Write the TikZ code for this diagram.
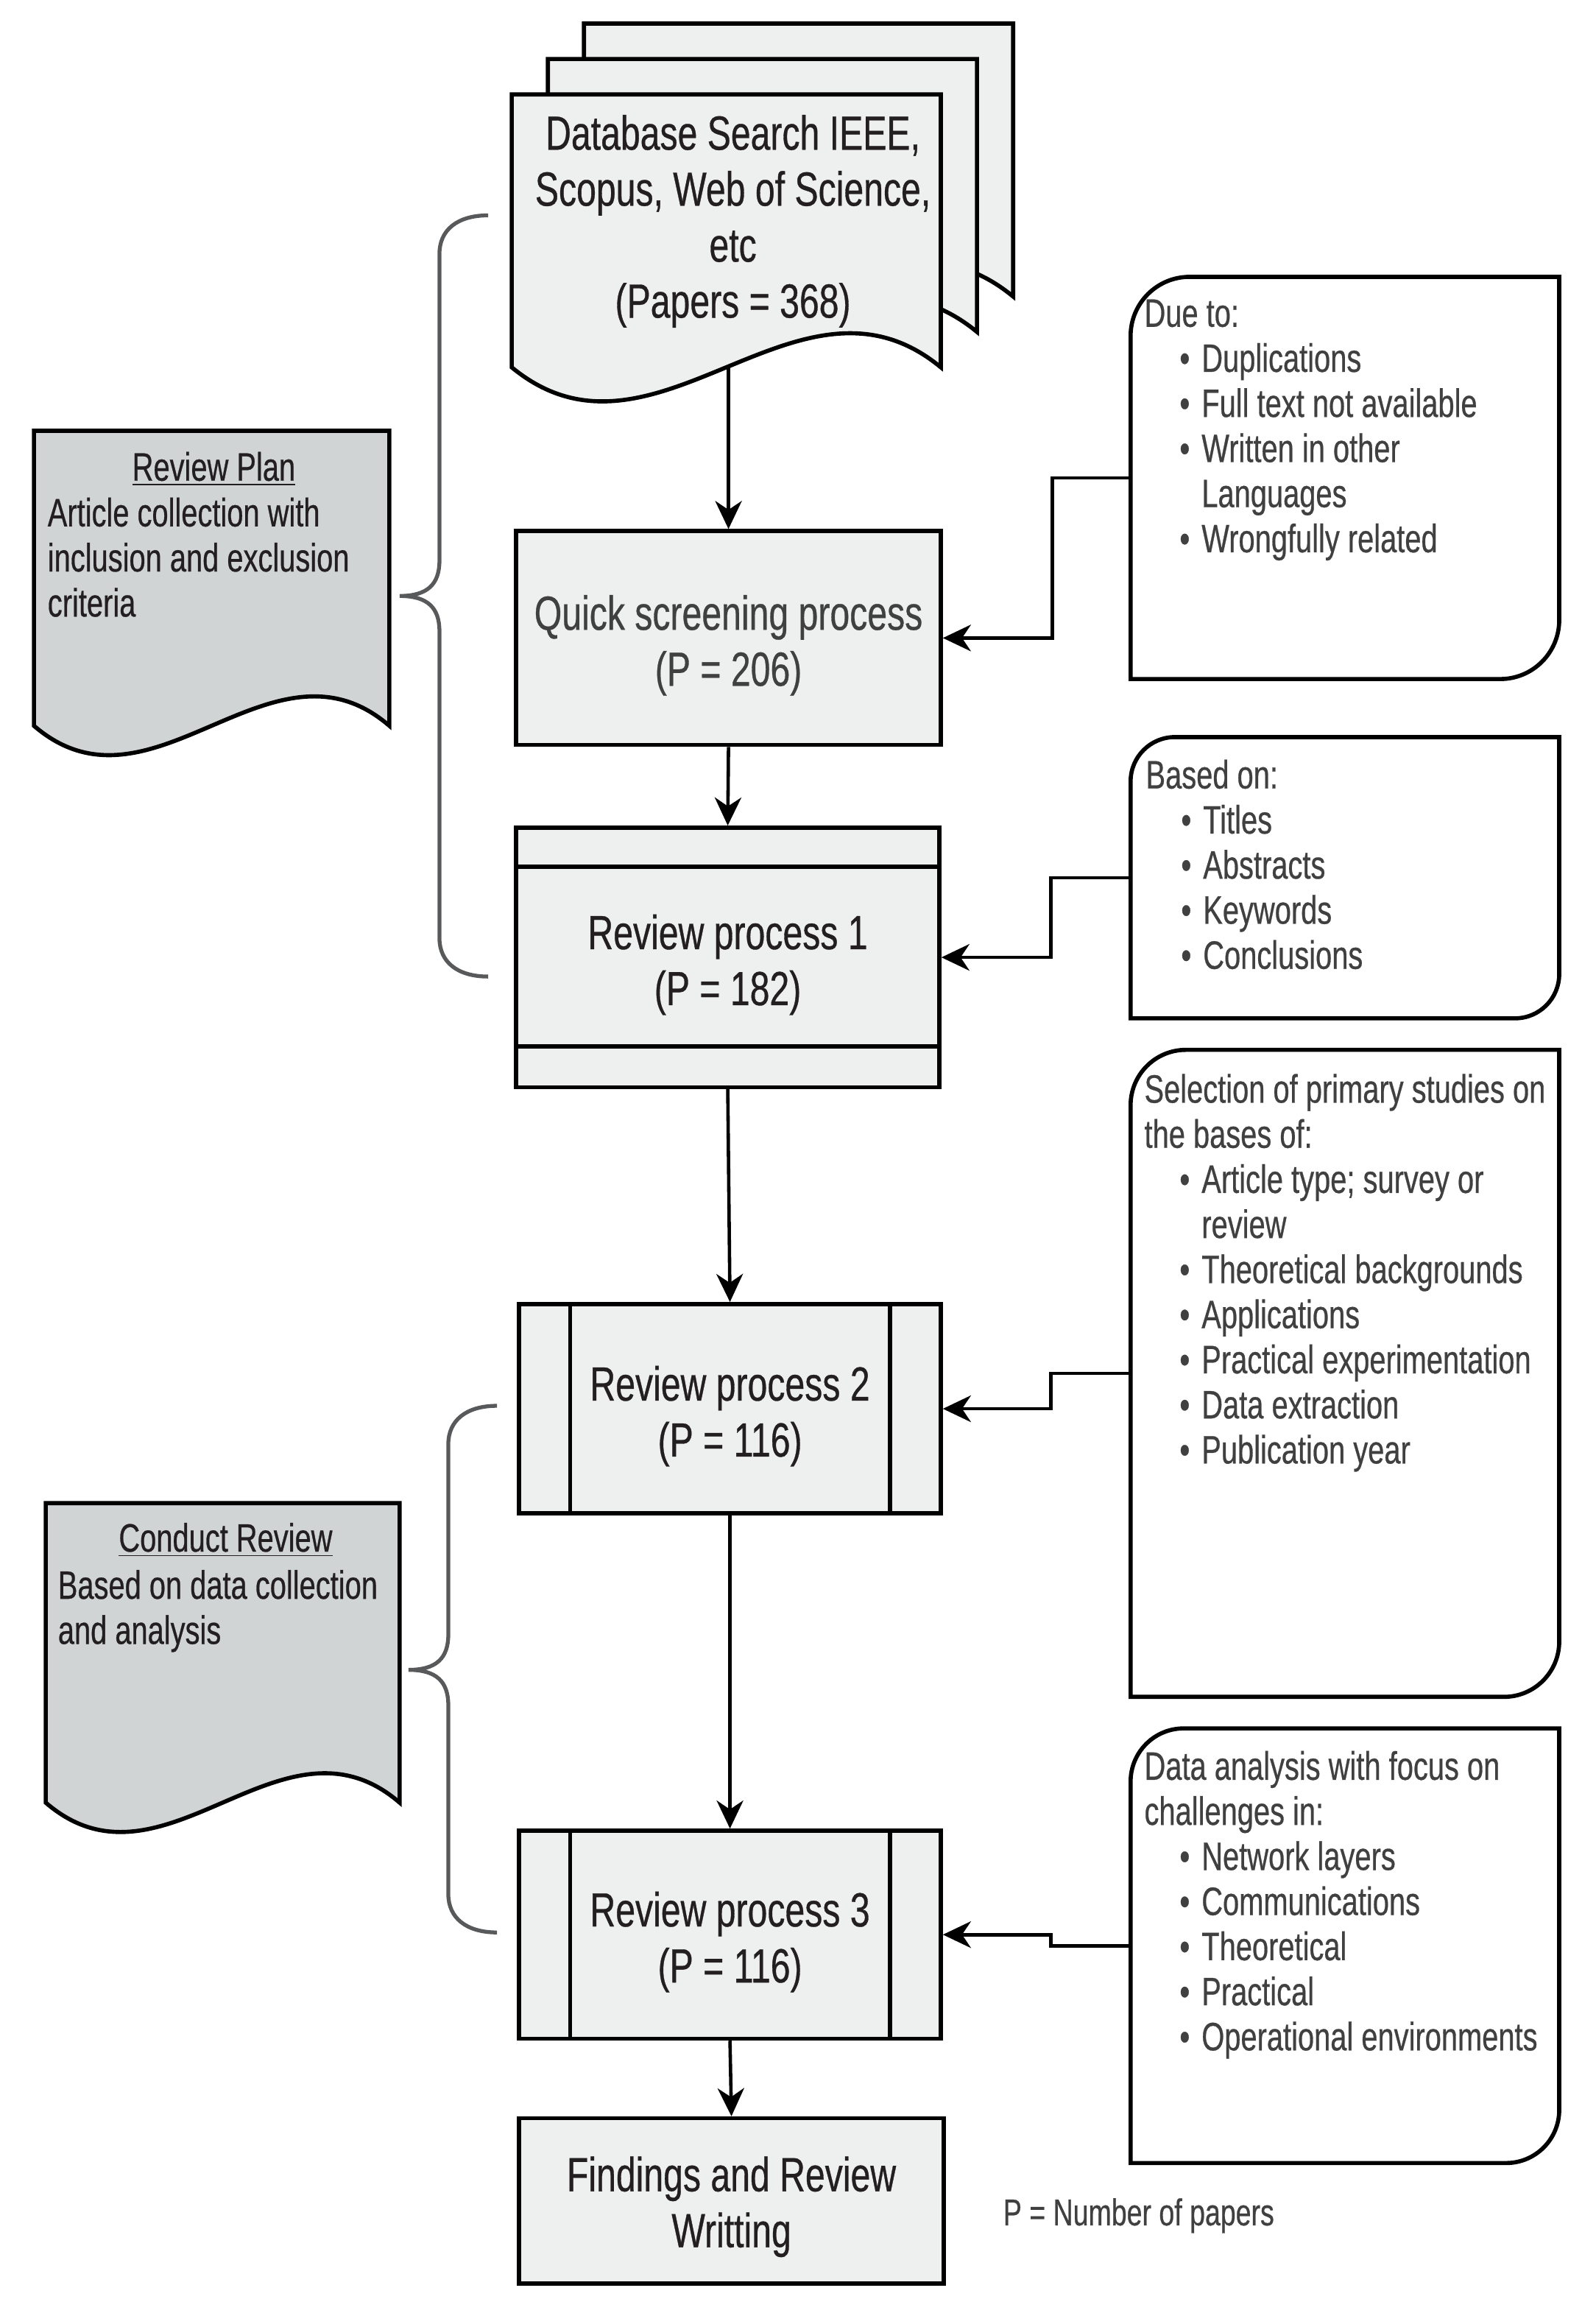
\documentclass[tikz,border=0pt]{standalone}
\usepackage{fontspec}
\setmainfont{Liberation Sans}[FakeStretch=0.74,FakeBold=0.5]
\usetikzlibrary{arrows.meta}

\definecolor{boxgray}{HTML}{EEEFEF}
\definecolor{docgray}{HTML}{D1D4D5}
\definecolor{inkdark}{HTML}{231F20}
\definecolor{inkgray}{HTML}{404041}
\definecolor{bracegray}{HTML}{58595B}

\newcommand{\bul}{\hspace*{13.6pt}\makebox[8.5pt][l]{\textbullet}}
\newcommand{\cont}{\hspace*{22.1pt}}

\begin{document}
\begin{tikzpicture}[x=0.02cm,y=-0.02cm,
  proc/.style={draw,line width=1.6pt,fill=boxgray,inner sep=0pt},
  proctxt/.style={text=inkdark,align=center,inner sep=0pt,font=\fontsize{18.5}{21.6}\selectfont},
  page/.style={draw,line width=1.6pt,fill=boxgray},
  sheet/.style={draw,line width=1.6pt,fill=docgray},
  noteframe/.style={line width=1.6pt},
  holder/.style={inner sep=0pt},
  note/.style={anchor=north west,align=left,inner sep=0pt,text=inkgray,font=\fontsize{15.3}{17.4}\selectfont},
  conn/.style={line width=1.3pt,-{Stealth[length=0.38cm,width=0.36cm,inset=0.12cm]}},
  curly/.style={draw=bracegray,line width=1.5pt}]
\useasboundingbox (0,0) rectangle (1082,1568);

% database search, three stacked pages
\foreach \s in {2,1,0}
  \draw[page,shift={(\s*24.5,-\s*24)}] (347,64) -- (638,64) -- (638,249) .. controls (541,169) and (444,329) .. (347,249) -- cycle;
\node[proctxt] (db) at (497,150) {Database Search IEEE,\\Scopus, Web of Science,\\etc\\(Papers = 368)};
\coordinate (dbout) at (494,249);

% main flow
\node[proc,minimum width=5.76cm,minimum height=2.9cm] (quick) at (494,432.5) {};
\node[proc,minimum width=5.74cm,minimum height=3.52cm] (rp1) at (493.5,649) {};
\node[proc,minimum width=5.72cm,minimum height=2.84cm] (rp2) at (495,955) {};
\node[proc,minimum width=5.72cm,minimum height=2.82cm] (rp3) at (495,1311.5) {};
\node[proc,minimum width=5.76cm,minimum height=2.24cm] (find) at (496,1492) {};
\draw[line width=1.6pt] ([yshift=-0.56cm]rp1.north west) -- ([yshift=-0.56cm]rp1.north east)
  ([yshift=0.58cm]rp1.south west) -- ([yshift=0.58cm]rp1.south east);
\foreach \n in {rp2,rp3}
  \draw[line width=1.6pt] ([xshift=0.72cm]\n.north west) -- ([xshift=0.72cm]\n.south west)
    ([xshift=-0.72cm]\n.north east) -- ([xshift=-0.72cm]\n.south east);
\node[proctxt,text=inkgray] (quicktxt) at ([yshift=-0.1cm]quick.center) {Quick screening process\\(P = 206)};
\node[proctxt] (rp1txt) at ([yshift=-0.1cm]rp1.center) {Review process 1\\(P = 182)};
\node[proctxt] (rp2txt) at ([yshift=-0.1cm]rp2.center) {Review process 2\\(P = 116)};
\node[proctxt] (rp3txt) at ([yshift=-0.1cm]rp3.center) {Review process 3\\(P = 116)};
\node[proctxt] (findtxt) at ([yshift=-0.08cm]find.center) {Findings and Review\\Writting};

\draw[conn] (dbout) -- (quick.north);
\draw[conn] (quick.south) -- (rp1.north);
\draw[conn] (rp1.south) -- (rp2.north);
\draw[conn] (rp2.south) -- (rp3.north);
\draw[conn] (rp3.south) -- (find.north);

% notes on the right
\node[holder,minimum width=5.8cm,minimum height=5.44cm] (due) at (912,324) {};
\node[holder,minimum width=5.8cm,minimum height=3.8cm] (based) at (912,595) {};
\node[holder,minimum width=5.8cm,minimum height=8.76cm] (sel) at (912,931) {};
\node[holder,minimum width=5.8cm,minimum height=5.88cm] (ana) at (912,1319) {};
\foreach \n/\r in {due/0.8cm,based/0.6cm,sel/0.75cm,ana/0.72cm}
  \draw[noteframe] ([yshift=-\r]\n.north west) arc[start angle=180,end angle=90,radius=\r] -- (\n.north east)
    -- ([yshift=\r]\n.south east) arc[start angle=0,end angle=-90,radius=\r] -- (\n.south west) -- cycle;

\node[note] (duetxt) at ([xshift=0.18cm,yshift=-0.3cm]due.north west) {Due to:\\\bul Duplications\\\bul Full text not available\\\bul Written in other\\\cont Languages\\\bul Wrongfully related};
\node[note] (basedtxt) at ([xshift=0.2cm,yshift=-0.3cm]based.north west) {Based on:\\\bul Titles\\\bul Abstracts\\\bul Keywords\\\bul Conclusions};
\node[note] (seltxt) at ([xshift=0.18cm,yshift=-0.32cm]sel.north west) {Selection of primary studies on\\the bases of:\\\bul Article type; survey or\\\cont review\\\bul Theoretical backgrounds\\\bul Applications\\\bul Practical experimentation\\\bul Data extraction\\\bul Publication year};
\node[note] (anatxt) at ([xshift=0.18cm,yshift=-0.3cm]ana.north west) {Data analysis with focus on\\challenges in:\\\bul Network layers\\\bul Communications\\\bul Theoretical\\\bul Practical\\\bul Operational environments};

\draw[conn] (due.west) -- ++(-53,0) |- (quick.east);
\draw[conn] (based.west) -- ++(-54,0) |- (rp1.east);
\draw[conn] (sel.west) -- ++(-54,0) |- (rp2.east);
\draw[conn] (ana.west) -- ++(-54,0) |- (rp3.east);

% review stages on the left
\draw[sheet] (23,292) -- (264,292) -- (264,492) .. controls (184,423) and (103,561) .. (23,492) -- cycle;
\draw[sheet] (31,1019) -- (271,1019) -- (271,1222) .. controls (191,1153) and (111,1291) .. (31,1222) -- cycle;
\node[note,anchor=center,text=inkdark] (plantitle) at (145,318) {\underline{Review Plan}};
\node[note,text=inkdark] (planbody) at (32,337) {Article collection with\\inclusion and exclusion\\criteria};
\node[note,anchor=center,text=inkdark] (condtitle) at (153,1044) {\underline{Conduct Review}};
\node[note,text=inkdark] (condbody) at (39,1064) {Based on data collection\\and analysis};

\foreach \xt/\xv/\xe/\ya/\ym/\yb in {271/298/331/146/404/662,277/304/337/953/1132/1310}
  \draw[curly] (\xe,\ya) .. controls (\xv+12,\ya) and (\xv,\ya+10) .. (\xv,\ya+26) -- (\xv,\ym-24)
    .. controls (\xv,\ym-8) and (\xv-8,\ym) .. (\xt,\ym) .. controls (\xv-8,\ym) and (\xv,\ym+8) .. (\xv,\ym+24)
    -- (\xv,\yb-26) .. controls (\xv,\yb-10) and (\xv+12,\yb) .. (\xe,\yb);

\node[anchor=west,inner sep=0pt,text=inkgray,font=\fontsize{14.4}{16}\selectfont] (legend) at (680,1502) {P = Number of papers};
\end{tikzpicture}
\end{document}
